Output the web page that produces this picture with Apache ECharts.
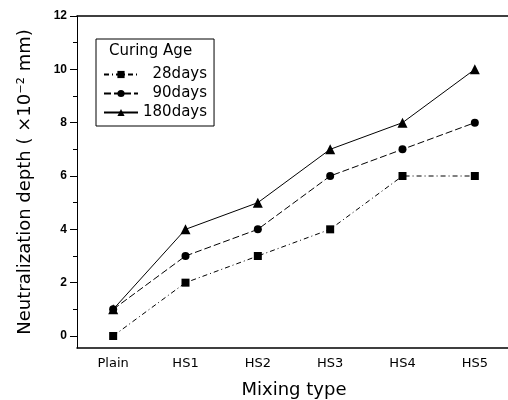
<!DOCTYPE html>
<html>
<head>
<meta charset="utf-8">
<script src="https://cdn.jsdelivr.net/npm/echarts@6/dist/echarts.min.js"></script>
<style>
  html, body { margin: 0; padding: 0; background: #fff; }
  #chart { width: 508px; height: 400px; }
</style>
</head>
<body>
<div id="chart"></div>
<script>
// data
const mixTypes = ['Plain', 'HS1', 'HS2', 'HS3', 'HS4', 'HS5'];
const days28 = [0, 2, 3, 4, 6, 6];
const days90 = [1, 3, 4, 6, 7, 8];
const days180 = [1, 4, 5, 7, 8, 10];
const majorTicks = [0, 2, 4, 6, 8, 10, 12];
const minorTicks = [1, 3, 5, 7, 9, 11];

const chart = echarts.init(document.getElementById('chart'));
const font = 'DejaVu Sans, sans-serif';

const mkSeries = (name, data, symbol, size, dash) => ({
  name: name,
  type: 'line',
  data: data,
  symbol: symbol,
  symbolSize: size,
  itemStyle: { color: '#000' },
  lineStyle: { color: '#000', width: 1, type: dash },
  emphasis: { disabled: true },
  animation: false
});

const option = {
  backgroundColor: '#fff',
  textStyle: { fontFamily: font, color: '#000' },
  title: {
    text: 'Curing Age',
    left: 109, top: 44,
    padding: 0,
    textStyle: { fontSize: 15, fontWeight: 'normal', color: '#000', fontFamily: font }
  },
  legend: {
    orient: 'vertical',
    left: 96, top: 39,
    padding: [28, 7, 6, 7],
    borderColor: '#000',
    borderWidth: 1,
    itemWidth: 34,
    itemHeight: 9,
    itemGap: 4,
    textStyle: { fontSize: 15, color: '#000', fontFamily: font },
    formatter: n => n.length < 7 ? '  ' + n : n,
    data: ['28days', '90days', '180days']
  },
  grid: { left: 77, right: -3, top: 16, bottom: 52, outerBoundsMode: 'none' },
  xAxis: [{
    type: 'category',
    data: mixTypes,
    boundaryGap: true,
    name: 'Mixing type',
    nameLocation: 'middle',
    nameGap: 33,
    nameTextStyle: { fontSize: 18, color: '#000', fontFamily: font },
    axisLine: { onZero: false, lineStyle: { color: '#000', width: 1.5 } },
    axisTick: { alignWithLabel: true, length: 5, lineStyle: { color: '#000' } },
    axisLabel: { fontSize: 13, color: '#000', margin: 9 },
    splitLine: { show: false }
  }, {
    type: 'category',
    data: mixTypes,
    position: 'top',
    axisLine: { onZero: false, lineStyle: { color: '#000', width: 1.5 } },
    axisTick: { show: false },
    axisLabel: { show: false }
  }],
  yAxis: [{
    type: 'value',
    min: -0.45,
    max: 12,
    name: 'Neutralization depth ( ×10⁻² mm)',
    nameLocation: 'middle',
    nameGap: 43,
    nameTextStyle: { fontSize: 18, color: '#000', fontFamily: font },
    axisLine: { show: true, onZero: false, lineStyle: { color: '#000', width: 1 } },
    axisTick: { show: true, length: 7, customValues: majorTicks, lineStyle: { color: '#000' } },
    axisLabel: { fontSize: 12, fontWeight: 'bold', fontFamily: 'Liberation Sans, Arial, sans-serif', color: '#000', margin: 10, customValues: majorTicks },
    splitLine: { show: false }
  }, {
    type: 'value',
    min: -0.45,
    max: 12,
    position: 'left',
    axisLine: { show: false },
    axisTick: { show: true, length: 4, customValues: minorTicks, lineStyle: { color: '#000' } },
    axisLabel: { show: false, customValues: minorTicks },
    splitLine: { show: false }
  }],
  series: [
    mkSeries('28days', days28, 'rect', 8, [5, 3, 1, 3]),
    mkSeries('90days', days90, 'circle', 8, [7, 3]),
    mkSeries('180days', days180, 'triangle', 10, 'solid')
  ]
};

chart.setOption(option);
</script>
</body>
</html>
